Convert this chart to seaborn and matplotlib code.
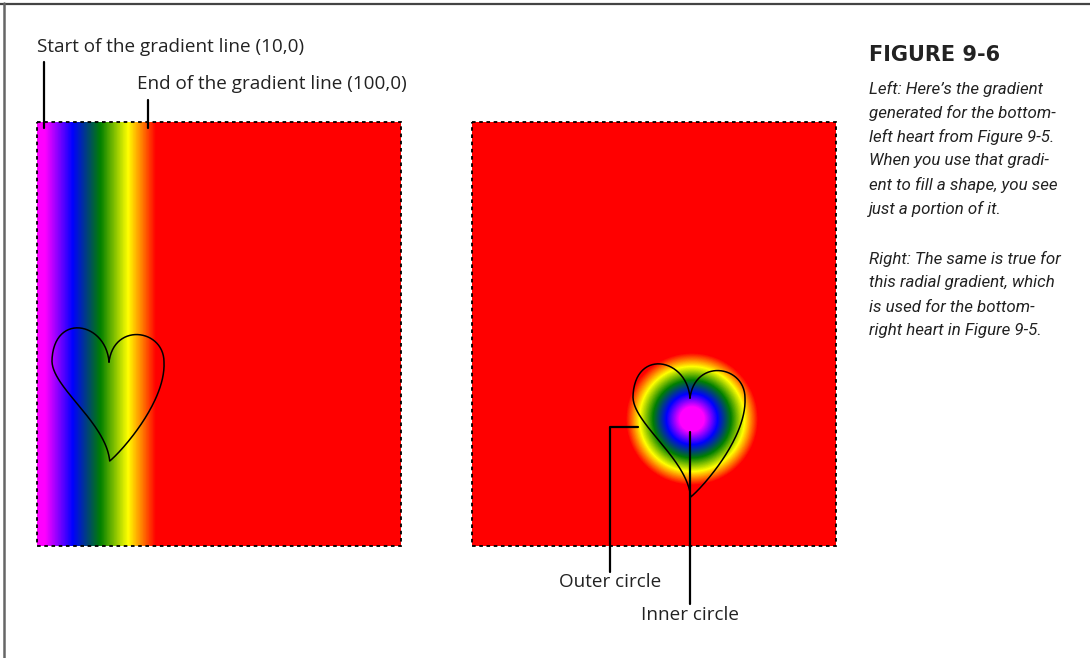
import numpy as np
import matplotlib
matplotlib.use("Agg")
from matplotlib import pyplot as plt
from matplotlib.colors import LinearSegmentedColormap
from matplotlib.patches import Rectangle
import seaborn as sns

sns.set_theme(style="white")

# gradient stops (shared by both gradients)
stop_pos = [0.0, 0.25, 0.5, 0.75, 1.0]
stop_colors = ["#ff00ff", "#0000ff", "#008000", "#ffff00", "#ff0000"]

# panels (left, top, width, height) in pixels of the page
left_panel = (37, 122, 364, 424)
right_panel = (472, 122, 364, 424)

# linear gradient, page pixels (canvas (10,0) -> (100,0))
lin_start = 45
lin_end = 156
mark_start = 44
mark_end = 148

# radial gradient: centre, inner radius, outer radius
rad_center = (692, 419)
rad_inner = 12
rad_outer = 66

# heart outline: cubic bezier segments, relative to the notch
heart_segments = [
    [(0, 0), (-3, -40), (-55, -50), (-57, -2)],
    [(-57, -2), (-58, 25), (-3, 60), (0.7, 99)],
    [(0.7, 99), (12, 90), (57, 40), (55, 0)],
    [(55, 0), (55, -33), (5, -40), (0, 0)],
]
heart_notch_left = (109, 362)
heart_notch_right = (690, 398)

caption_title = "FIGURE 9-6"
caption_para1 = ["Left: Here\u2019s the gradient",
                 "generated for the bottom-",
                 "left heart from Figure 9-5.",
                 "When you use that gradi-",
                 "ent to fill a shape, you see",
                 "just a portion of it."]
caption_para2 = ["Right: The same is true for",
                 "this radial gradient, which",
                 "is used for the bottom-",
                 "right heart in Figure 9-5."]

cmap = LinearSegmentedColormap.from_list("rainbow5", list(zip(stop_pos, stop_colors)))

fig = plt.figure(figsize=(10.9, 6.58), dpi=100)
ax = fig.add_axes([0, 0, 1, 1])

# linear gradient panel
x0, y0, w, h = left_panel
xs = np.arange(x0, x0 + w) + 0.5
t = np.clip((xs - lin_start) / (lin_end - lin_start), 0, 1)
ax.imshow(cmap(t)[None, :, :], extent=(x0, x0 + w, y0 + h, y0),
          aspect="auto", interpolation="bilinear", zorder=1)
ax.add_patch(Rectangle((x0, y0), w, h, fill=False, ec="black", lw=1.3,
                       ls=(0, (2, 2)), zorder=3))

# radial gradient panel
x0, y0, w, h = right_panel
gx, gy = np.meshgrid(np.arange(x0, x0 + w) + 0.5, np.arange(y0, y0 + h) + 0.5)
r = np.hypot(gx - rad_center[0], gy - rad_center[1])
t = np.clip((r - rad_inner) / (rad_outer - rad_inner), 0, 1)
ax.imshow(cmap(t), extent=(x0, x0 + w, y0 + h, y0),
          aspect="auto", interpolation="bilinear", zorder=1)
ax.add_patch(Rectangle((x0, y0), w, h, fill=False, ec="black", lw=1.3,
                       ls=(0, (2, 2)), zorder=3))


def bezier(seg, n=60):
    p = np.array(seg, dtype=float)
    s = np.linspace(0, 1, n)[:, None]
    return ((1 - s) ** 3) * p[0] + 3 * ((1 - s) ** 2) * s * p[1] + 3 * (1 - s) * s ** 2 * p[2] + s ** 3 * p[3]


heart = np.vstack([bezier(seg) for seg in heart_segments])
for nx, ny in [heart_notch_left, heart_notch_right]:
    sns.lineplot(x=heart[:, 0] + nx, y=heart[:, 1] + ny, sort=False,
                 estimator=None, color="black", lw=1.1, ax=ax, zorder=4)

# callout lines
lw_call = 1.6
ax.plot([mark_start, mark_start], [62, 128], color="black", lw=lw_call, zorder=5)
ax.plot([mark_end, mark_end], [100, 128], color="black", lw=lw_call, zorder=5)
ax.plot([638, 610, 610], [427, 427, 572], color="black", lw=lw_call, zorder=5)
ax.plot([690, 690], [432, 604], color="black", lw=lw_call, zorder=5)

label_font = dict(family=["Open Sans", "DejaVu Sans"], fontsize=13.6, color="#222222")
ax.text(37, 47, "Start of the gradient line (10,0)", va="center", ha="left", **label_font)
ax.text(137, 84, "End of the gradient line (100,0)", va="center", ha="left", **label_font)
ax.text(610, 582, "Outer circle", va="center", ha="center", **label_font)
ax.text(690, 615, "Inner circle", va="center", ha="center", **label_font)

# caption
ax.text(869, 55, caption_title, va="center", ha="left", fontsize=15,
        fontweight="bold", family=["DejaVu Sans"], color="#222222")
cap_font = dict(family=["Roboto", "DejaVu Sans"],
                style="italic", fontsize=12.2, color="#222222")
for i, line in enumerate(caption_para1):
    ax.text(869, 89 + 24 * i, line, va="center", ha="left", **cap_font)
for i, line in enumerate(caption_para2):
    ax.text(869, 259 + 24 * i, line, va="center", ha="left", **cap_font)

# page frame
ax.plot([0, 1090], [3.5, 3.5], color="#444444", lw=1.6, zorder=6)
ax.plot([4, 4], [3, 658], color="#666666", lw=1.8, zorder=6)

ax.set_xlim(0, 1090)
ax.set_ylim(658, 0)
ax.axis("off")
fig.savefig("out.png", dpi=100)
